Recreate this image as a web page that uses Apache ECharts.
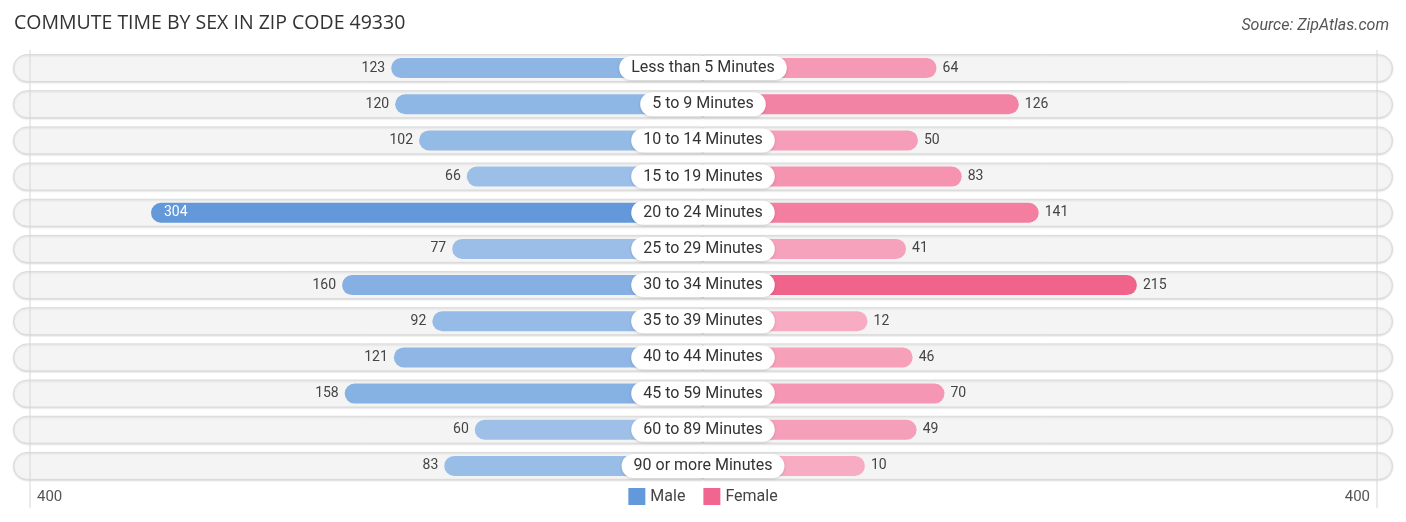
<!DOCTYPE html>
<html>
<head>
<meta charset="utf-8">
<script src="https://cdn.jsdelivr.net/npm/echarts@6/dist/echarts.min.js"></script>
<style>
html,body{margin:0;padding:0;background:#fff;}
#chart{width:1406px;height:522px;}
</style>
</head>
<body>
<div id="chart"></div>
<script>
var categories = ['Less than 5 Minutes','5 to 9 Minutes','10 to 14 Minutes','15 to 19 Minutes','20 to 24 Minutes','25 to 29 Minutes','30 to 34 Minutes','35 to 39 Minutes','40 to 44 Minutes','45 to 59 Minutes','60 to 89 Minutes','90 or more Minutes'];
var male = [123,120,102,66,304,77,160,92,121,158,60,83];
var female = [64,126,50,83,141,41,215,12,46,70,49,10];
var tickLabels = ['400','400'];
var seriesNames = ['Male','Female'];

var OFFSET = 112;   // room for the centre label, in axis units
var HALF = 520;     // half-extent of the axis

function mix(a,b,t){
  var c=[0,1,2].map(function(i){return Math.round(a[i]+(b[i]-a[i])*t);});
  return 'rgb('+c.join(',')+')';
}
var maleLight=[172,202,236], maleDark=[99,153,218];
var femLight=[248,176,199], femDark=[240,100,140];
var maleMax=Math.max.apply(null,male), femMax=Math.max.apply(null,female);

var maleData = male.map(function(v){
  var inside = v > 250;
  return {
    value: -(OFFSET+v),
    itemStyle:{color: mix(maleLight,maleDark,v/maleMax)},
    label: inside ? {position:'insideLeft',color:'#fff',distance:13} : {position:'left',color:'#444',distance:6}
  };
});
var femData = female.map(function(v){
  var inside = v > 250;
  return {
    value: OFFSET+v,
    itemStyle:{color: mix(femLight,femDark,v/femMax)},
    label: inside ? {position:'insideRight',color:'#fff',distance:13} : {position:'right',color:'#444',distance:6}
  };
});

var chart = echarts.init(document.getElementById('chart'));
var font = 'Roboto, "Noto Sans", sans-serif';
var option = {
  animation:false,
  title:[
    {text:'COMMUTE TIME BY SEX IN ZIP CODE 49330',left:9,top:8,textStyle:{fontFamily:'"Open Sans", sans-serif',fontSize:19.5,fontWeight:'normal',color:'#333'}},
    {text:'Source: ZipAtlas.com',right:12,top:13,textStyle:{fontFamily:font,fontSize:16,fontStyle:'italic',fontWeight:'normal',color:'#555'}}
  ],
  legend:{
    data:seriesNames, bottom:12, left:'center', itemWidth:17, itemHeight:17, itemGap:18,
    icon:'rect', textStyle:{fontFamily:font,fontSize:16,color:'#444'}
  },
  grid:{left:13,right:13,top:50,bottom:38},
  xAxis:{type:'value',min:-HALF,max:HALF,show:false},
  yAxis:[
    {type:'category',data:categories,inverse:true,show:false},
    {type:'category',data:categories,inverse:true,show:false}
  ],
  graphic:[
    {type:'line',shape:{x1:30,y1:50,x2:30,y2:508},style:{stroke:'#d6d6d6',lineWidth:1},z:50},
    {type:'line',shape:{x1:1377,y1:50,x2:1377,y2:508},style:{stroke:'#d6d6d6',lineWidth:1},z:50},
    {type:'text',left:37,top:490,style:{text:tickLabels[0],font:'15px Roboto, sans-serif',fill:'#555'}},
    {type:'text',right:36,top:490,style:{text:tickLabels[1],font:'15px Roboto, sans-serif',fill:'#555'}}
  ],
  series:[
    {type:'bar',yAxisIndex:1,stack:'bg',barWidth:28,silent:true,z:1,
     data:categories.map(function(){return -HALF;}),
     itemStyle:{color:'#f4f4f4',borderColor:'#dadada',borderWidth:1,borderRadius:[14,0,0,14],shadowColor:'rgba(0,0,0,0.12)',shadowBlur:2,shadowOffsetY:1}},
    {type:'bar',yAxisIndex:1,stack:'bg',barWidth:28,silent:true,z:1,
     data:categories.map(function(){return HALF;}),
     itemStyle:{color:'#f4f4f4',borderColor:'#dadada',borderWidth:1,borderRadius:[0,14,14,0],shadowColor:'rgba(0,0,0,0.12)',shadowBlur:2,shadowOffsetY:1}},
    {name:'Male',type:'bar',yAxisIndex:0,stack:'d',barWidth:20,z:3,
     itemStyle:{color:mix(maleLight,maleDark,1),borderRadius:[10,0,0,10]},
     label:{show:true,fontFamily:font,fontSize:14,formatter:function(p){return male[p.dataIndex];}},
     data:maleData},
    {name:'Female',type:'bar',yAxisIndex:0,stack:'d',barWidth:20,z:3,
     itemStyle:{color:'#f06690',borderRadius:[0,10,10,0]},
     label:{show:true,fontFamily:font,fontSize:14,formatter:function(p){return female[p.dataIndex];}},
     data:femData},
    {type:'scatter',yAxisIndex:0,symbolSize:0,z:10,silent:true,
     itemStyle:{opacity:1},
     data:categories.map(function(c,i){return [0,i];}),
     label:{show:true,position:'inside',formatter:function(p){return categories[p.dataIndex];},
       fontFamily:font,fontSize:16,color:'#333',backgroundColor:'#fff',borderRadius:12,
       padding:[4,12,4,12],shadowColor:'rgba(0,0,0,0.15)',shadowBlur:3,shadowOffsetY:1}}
  ]
};
chart.setOption(option);
</script>
</body>
</html>
